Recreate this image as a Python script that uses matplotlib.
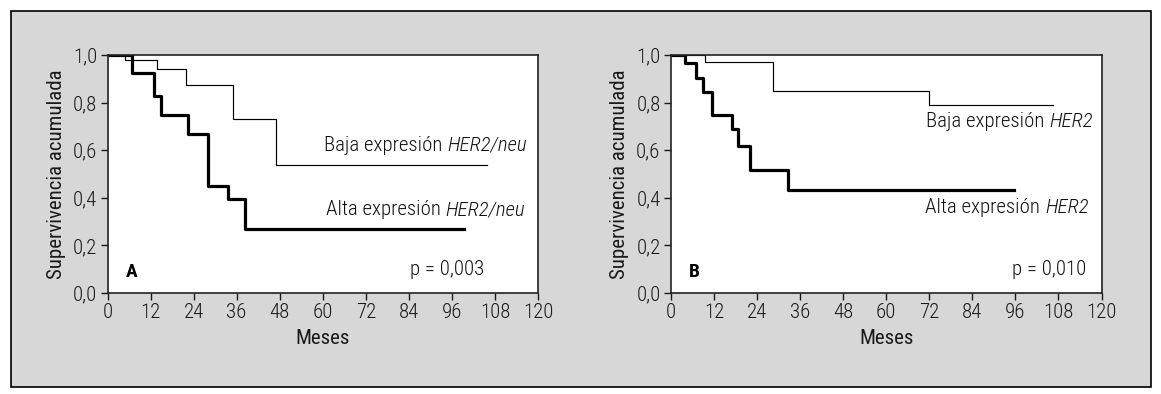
import numpy as np
import matplotlib
matplotlib.use("Agg")
import matplotlib.pyplot as plt
from matplotlib.patches import Rectangle

fuente = "Roboto Condensed"
plt.rcParams['font.family'] = [fuente, 'DejaVu Sans']
plt.rcParams['font.weight'] = 300

# Panel A: HER2/neu
a_baja_t = [0, 4.9, 13.9, 21.9, 34.9, 46.9, 105.9]
a_baja_s = [1.0, 0.979, 0.941, 0.874, 0.731, 0.536, 0.536]
a_alta_t = [0, 6.7, 13.0, 14.9, 22.5, 28.1, 33.5, 38.3, 99.4]
a_alta_s = [1.0, 0.923, 0.829, 0.748, 0.667, 0.451, 0.394, 0.270, 0.270]

# Panel B: HER2
b_baja_t = [0, 9.5, 28.4, 71.8, 106.5]
b_baja_s = [1.0, 0.969, 0.849, 0.790, 0.790]
b_alta_t = [0, 3.9, 7.0, 8.8, 11.5, 16.9, 18.8, 22.0, 32.7, 95.5]
b_alta_s = [1.0, 0.968, 0.902, 0.846, 0.748, 0.689, 0.618, 0.517, 0.433, 0.433]

xticks = np.arange(0, 121, 12)
yticks = [0.0, 0.2, 0.4, 0.6, 0.8, 1.0]
ylabels = ["0,0", "0,2", "0,4", "0,6", "0,8", "1,0"]

fig = plt.figure(figsize=(11.61, 3.94), dpi=100)
fig.patch.set_facecolor('white')
marco = Rectangle((11 / 1161, 1 - 387 / 394), 1140 / 1161, 376 / 394,
                  transform=fig.transFigure, facecolor='#d7d7d7',
                  edgecolor='black', linewidth=1.2, zorder=-5)
fig.add_artist(marco)

paneles = [
    (107.5, "A", "p = 0,003", a_baja_t, a_baja_s, a_alta_t, a_alta_s,
     "HER2/neu", (117, 0.62), (116.5, 0.35), 105),
    (671, "B", "p = 0,010", b_baja_t, b_baja_s, b_alta_t, b_alta_s,
     "HER2", (117.5, 0.72), (116.4, 0.36), 115.7),
]


def etiqueta(ax, pos, normal, cursiva):
    # parte en cursiva a la derecha, texto normal pegado a su izquierda
    t = ax.text(pos[0], pos[1], cursiva, ha='right', va='center', fontsize=15,
                fontstyle='italic', color='#111111')
    ax.annotate(normal, xy=(0, 0.5), xycoords=t, xytext=(-3.5, 0),
                textcoords='offset points', ha='right', va='center',
                fontsize=15, color='#111111')


for left, letra, pval, bt, bs, at, as_, gen, pos_b, pos_a, px in paneles:
    ax = fig.add_axes([left / 1161, 1 - 293 / 394, 430.5 / 1161, 238 / 394])
    ax.set_zorder(1)
    ax.set_facecolor('white')
    ax.step(bt, bs, where='post', color='black', linewidth=0.85)
    ax.step(at, as_, where='post', color='black', linewidth=2.3)
    ax.set_xlim(0, 120)
    ax.set_ylim(0, 1.0)
    ax.set_xticks(xticks)
    ax.set_yticks(yticks)
    ax.set_yticklabels(ylabels)
    ax.tick_params(direction='out', length=5, width=1, labelsize=15,
                   colors='#1a1a1a', pad=2.5)
    for s in ax.spines.values():
        s.set_color('#222222')
        s.set_linewidth(1.2)
    ax.set_xlabel("Meses", fontsize=15, color='#1a1a1a', labelpad=5)
    ax.set_ylabel("Supervivencia acumulada", fontsize=15, color='#1a1a1a', labelpad=5)
    etiqueta(ax, pos_b, "Baja expresión", gen)
    etiqueta(ax, pos_a, "Alta expresión", gen)
    ax.text(5, 0.09, letra, ha='left', va='center', fontsize=14, fontweight='bold')
    ax.text(px, 0.097, pval, ha='right', va='center', fontsize=15, color='#111111')

fig.savefig("out.png", dpi=100)
